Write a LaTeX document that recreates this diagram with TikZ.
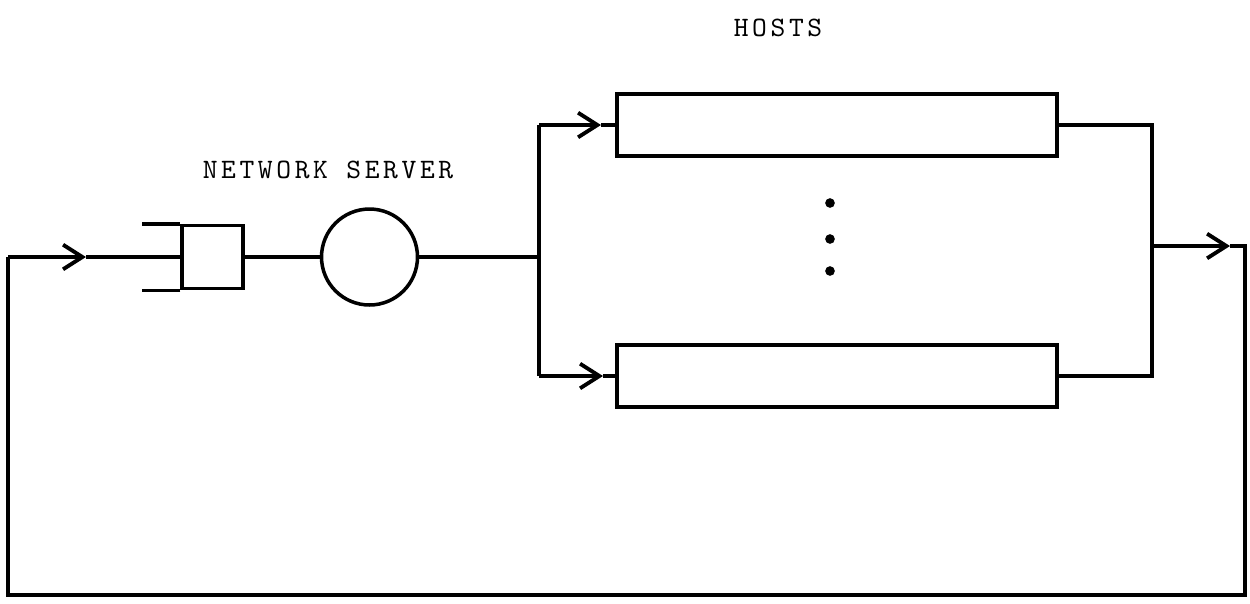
\documentclass[tikz,border=0pt]{standalone}
\usepackage{fontspec}
\newfontfamily\lblfont{lmmono10-regular}[Extension=.otf, LetterSpace=13]
\usetikzlibrary{arrows.meta}
\begin{document}
\begin{tikzpicture}[x=0.02cm,y=-0.02cm,
  line width=2pt, line join=miter,
  tip/.style={-{Straight Barb[length=11pt,width=14pt,line width=2.2pt]}},
  hostbox/.style={draw, minimum width=8.8cm, minimum height=1.24cm, inner sep=0pt},
  qbox/.style={draw, minimum width=1.22cm, minimum height=1.26cm, inner sep=0pt},
  srvc/.style={draw, circle, minimum size=1.92cm, inner sep=0pt},
  lbl/.style={font=\lblfont\fontsize{16}{19}\selectfont, inner sep=0pt},
  dotn/.style={circle, fill, minimum size=5.5pt, inner sep=0pt}]
\useasboundingbox (0,0) rectangle (1250,603);

% labels
\node[lbl] (hosts) at (778,28) {HOSTS};
\node[lbl] (ns) at (328,170) {NETWORK SERVER};

% queue and server
\node[qbox] (q) at (212.5,257) {};
\draw (q.north west) -- ++(-38,0) coordinate (qt);
\draw (q.south west) -- ++(-38,0) coordinate (qb);
\node[srvc] (srv) at (369.5,257) {};
\draw (q.east) -- (srv.west);

% hosts
\node[hostbox] (h1) at (837,125) {};
\node[hostbox] (h2) at (837,376) {};
\node[dotn] (d1) at (830,203) {};
\node[dotn] (d2) at (830,239) {};
\node[dotn] (d3) at (830,271) {};

% left junction
\coordinate (jm) at (539,257);
\coordinate (jt) at (539,125);
\coordinate (jb) at (539,376);
\coordinate (a1) at (601,125);
\coordinate (a2) at (603,376);
\draw (srv.east) -- (jm);
\draw (jt) -- (jb);
\draw[tip] (jt) -- (a1);
\draw (a1) -- (h1.west);
\draw[tip] (jb) -- (a2);
\draw (a2) -- (h2.west);

% right junction
\coordinate (rt) at (1152,125);
\coordinate (rb) at (1152,376);
\coordinate (rm) at (1152,246);
\coordinate (a3) at (1230,246);
\coordinate (rr) at (1245,246);
\coordinate (brr) at (1245,595);
\coordinate (bll) at (8,595);
\coordinate (ll) at (8,257);
\coordinate (a0) at (86,257);
\draw (h1.east) -- (rt) -- (rb) -- (h2.east);
\draw[tip] (rm) -- (a3);
\draw (a3) -- (rr) -- (brr) -- (bll) -- (ll);
\draw[tip] (ll) -- (a0);
\draw (a0) -- (q.west);
\end{tikzpicture}
\end{document}
